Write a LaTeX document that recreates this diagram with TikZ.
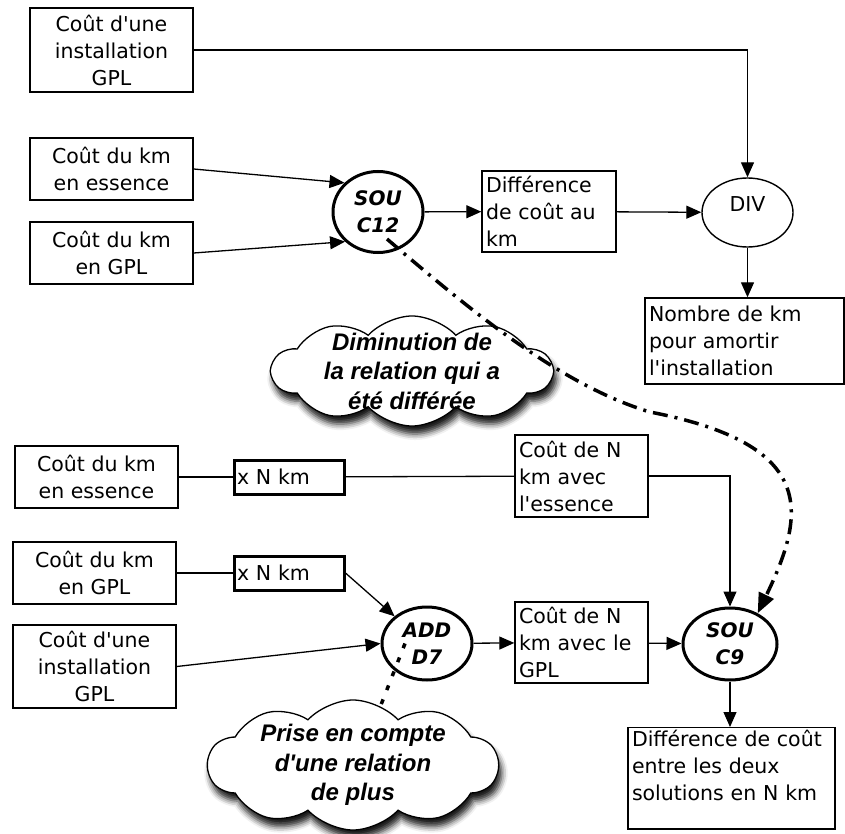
\documentclass[tikz,border=0pt]{standalone}
\usepackage{fontspec}
\setmainfont{DejaVu Sans}
\newfontfamily\bullefont{Liberation Sans}
\usetikzlibrary{arrows.meta,shapes.geometric,shapes.symbols,shadows.blur,calc}
\newcommand{\ap}{\textquotesingle}

\begin{document}
\begin{tikzpicture}[x=1pt,y=-1pt,
  font=\fontsize{20.5}{27}\selectfont,
  box/.style={draw,line width=1.4pt,minimum width=163pt,minimum height=62pt,align=center,inner sep=2pt},
  tbox/.style={draw,line width=1.4pt,align=left,inner xsep=4pt,inner ysep=2pt},
  fois/.style={draw,line width=3pt,minimum height=34pt,text width=104pt,align=left,inner xsep=3pt,inner ysep=0pt},
  op/.style={ellipse,draw,line width=1.4pt,inner sep=0pt,align=center},
  opk/.style={op,line width=3pt,font=\fontsize{20}{27}\selectfont\bfseries\itshape},
  bulle/.style={cloud,cloud puffs=10,cloud puff arc=95,cloud ignores aspect,draw,line width=1.3pt,fill=white,
    inner xsep=0pt,inner ysep=-10pt,align=center,font=\bullefont\fontsize{24}{29.5}\selectfont\bfseries\itshape,
    blur shadow={shadow xshift=3pt,shadow yshift=-8pt,shadow blur radius=6pt,shadow opacity=90}},
  arr/.style={-{Triangle[length=15pt,width=13pt]},line width=1.3pt},
  lien/.style={line width=1.3pt},
  dd/.style={-{Triangle[length=20pt,width=16pt]},line width=3.5pt,dash pattern=on 15pt off 7pt on 3pt off 7pt},
  dl/.style={line width=3.5pt,dash pattern=on 5pt off 10pt}]
  \useasboundingbox (0,0) rectangle (845,834);
  % premier calcul : nombre de km
  \node[box,minimum height=84pt] (inst1) at (111.5,50) {Coût d\ap une\\installation\\GPL};
  \node[box] (kmE1) at (111.5,169) {Coût du km\\en essence};
  \node[box] (kmG1) at (111.5,253) {Coût du km\\en GPL};
  \node[opk,minimum width=90pt,minimum height=81pt] (sou12) at (378,212) {SOU\\C12};
  \node[tbox,text width=126pt,minimum height=81pt] (diffkm) at (549,211.5) {Différence\\de coût au\\km};
  \node[op,minimum width=91pt,minimum height=69pt] (div) at (747.5,212.5) {DIV\\[-10pt]\mbox{}};
  \node[tbox,text width=191pt,minimum height=86pt] (nbkm) at (744.5,341) {Nombre de km\\pour amortir\\l\ap installation};
  \draw[arr] (inst1.east) -| (div.north);
  \draw[arr] (kmE1.east) -- (sou12.139);
  \draw[arr] (kmG1.east) -- (sou12.222);
  \draw[arr] (sou12) -- (diffkm);
  \draw[arr] (diffkm) -- (div);
  \draw[arr] (div.south) -- (div.south |- nbkm.north);
  % second calcul : cout sur N km
  \node[box] (kmE2) at (96.5,477) {Coût du km\\en essence};
  \node[fois] (xN1) at (289,477) {x N km};
  \node[tbox,text width=125pt,minimum height=82pt] (cNE) at (581.5,476) {Coût de N\\km avec\\l\ap essence};
  \node[box] (kmG2) at (94.5,573) {Coût du km\\en GPL};
  \node[fois] (xN2) at (289,573) {x N km};
  \node[box,minimum height=83pt] (inst2) at (94.5,666.5) {Coût d\ap une\\installation\\GPL};
  \node[opk,minimum width=90pt,minimum height=73pt] (add) at (427,643.5) {ADD\\D7};
  \node[tbox,text width=125pt,minimum height=81pt] (cNG) at (581.5,642.5) {Coût de N\\km avec le\\GPL};
  \node[opk,minimum width=94pt,minimum height=72pt] (sou9) at (730,644) {SOU\\C9};
  \node[tbox,text width=199pt,anchor=north] (diffN) at (731.5,727) {Différence de coût\\entre les deux\\solutions en N km\\\mbox{}};
  \draw[lien] (kmE2) -- (xN1);
  \draw[lien] (xN1) -- (cNE);
  \draw[arr] (cNE.east) -| (sou9.north);
  \draw[lien] (kmG2) -- (xN2);
  \draw[arr] (xN2.east) -- (add.140);
  \draw[arr] (inst2.east) -- (add.west);
  \draw[arr] (add) -- (cNG);
  \draw[arr] (cNG) -- (sou9);
  \draw[arr] (sou9.south) -- (sou9.south |- diffN.north);
  % bulles
  \node[bulle,minimum width=280pt,minimum height=104pt] (cloud1) at (412,371) {Diminution de\\la relation qui a\\été différée};
  \node[bulle,minimum width=290pt,minimum height=130pt] (cloud2) at (353,765) {Prise en compte\\d\ap une relation\\de plus};
  \draw[dd] ($(sou12.center)+(9,27)$) .. controls (470,310) and (560,385) .. (650,412)
    .. controls (820,445) and (805,515) .. (sou9.48);
  \draw[dl] ($(add.center)+(-22,0)$) -- (cloud2.65);
\end{tikzpicture}
\end{document}
